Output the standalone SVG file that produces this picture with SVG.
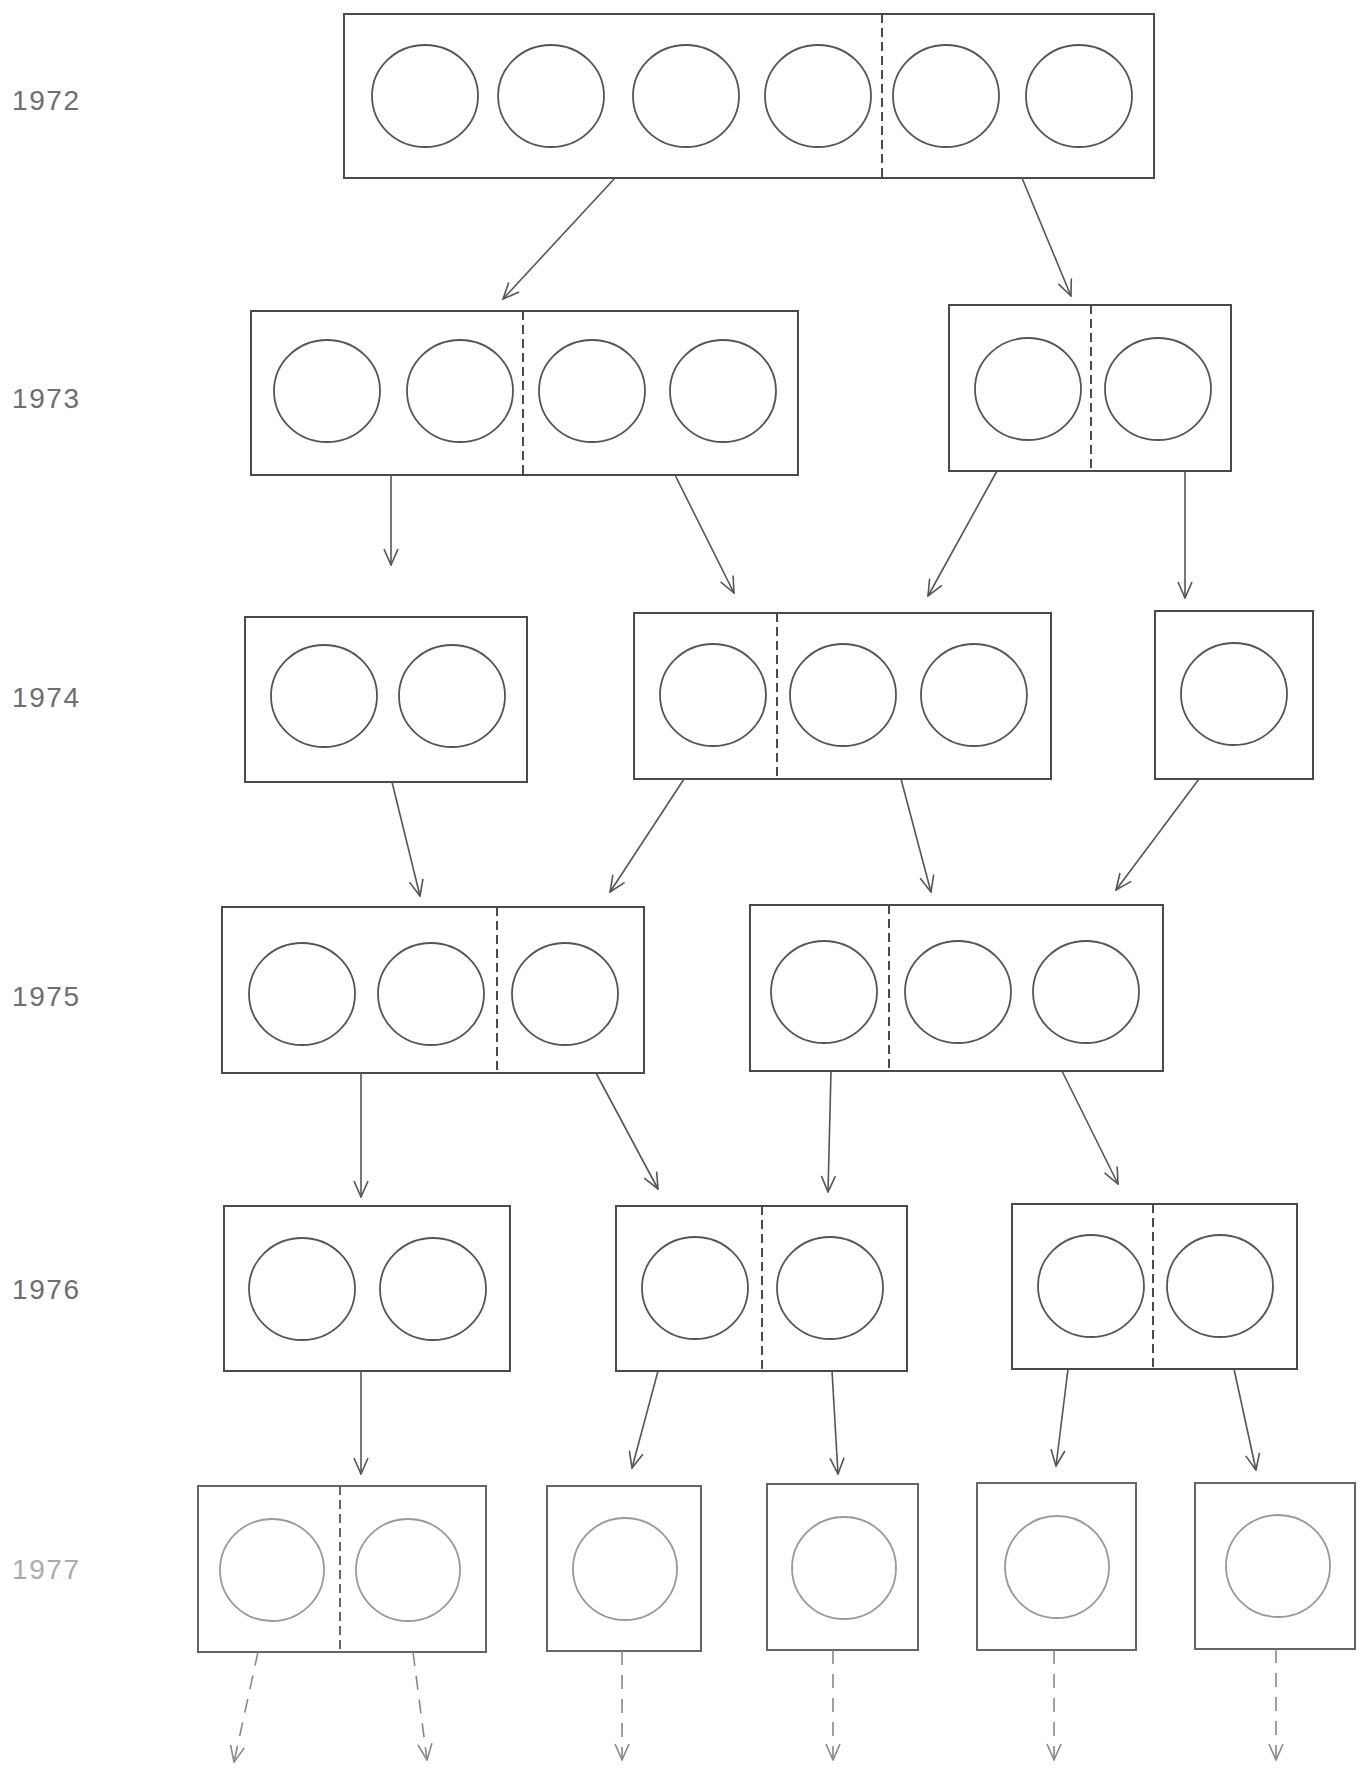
<svg xmlns="http://www.w3.org/2000/svg" width="1362" height="1771" viewBox="0 0 1362 1771">
<style>
.box{fill:none;stroke:#4a4a4a;stroke-width:2}
.c{fill:none;stroke:#555;stroke-width:1.8}
.div{stroke:#4a4a4a;stroke-width:2;stroke-dasharray:9,5}
.lbl{font-family:"Liberation Sans",Arial,sans-serif;font-size:28px;fill:#6e6e6e}
.lbl2{font-family:"Liberation Sans",Arial,sans-serif;font-size:28px;fill:#ababab}
.arr{stroke:#555;stroke-width:1.6;fill:none;marker-end:url(#ah)}
.darr{stroke:#888;stroke-width:1.6;fill:none;stroke-dasharray:14,10;marker-end:url(#ah2)}
.n7 .box{stroke:#666}
.n7 .c{stroke:#999}
.n7 .div{stroke:#666}
</style>
<defs>
<marker id="ah" viewBox="0 0 18 16" refX="17" refY="8" markerWidth="18" markerHeight="16" markerUnits="userSpaceOnUse" orient="auto">
<path d="M1,1 L17,8 L1,15" fill="none" stroke="#555" stroke-width="1.6"/>
</marker>
<marker id="ah2" viewBox="0 0 18 16" refX="17" refY="8" markerWidth="18" markerHeight="16" markerUnits="userSpaceOnUse" orient="auto">
<path d="M1,1 L17,8 L1,15" fill="none" stroke="#888" stroke-width="1.6"/>
</marker>
</defs>
<rect width="1362" height="1771" fill="#fff"/>
<g id="labels">
<text class="lbl" x="12" y="110" textLength="67" lengthAdjust="spacing">1972</text>
<text class="lbl" x="12" y="408" textLength="67" lengthAdjust="spacing">1973</text>
<text class="lbl" x="12" y="707" textLength="67" lengthAdjust="spacing">1974</text>
<text class="lbl" x="12" y="1006" textLength="67" lengthAdjust="spacing">1975</text>
<text class="lbl" x="12" y="1299" textLength="67" lengthAdjust="spacing">1976</text>
<text class="lbl2" x="12" y="1579" textLength="67" lengthAdjust="spacing">1977</text>
</g>
<g id="n1972">
<rect class="box" x="344" y="14" width="810" height="164"/>
<line class="div" x1="882" y1="14" x2="882" y2="178"/>
<ellipse class="c" cx="425" cy="96" rx="53" ry="51"/>
<ellipse class="c" cx="551" cy="96" rx="53" ry="51"/>
<ellipse class="c" cx="686" cy="96" rx="53" ry="51"/>
<ellipse class="c" cx="818" cy="96" rx="53" ry="51"/>
<ellipse class="c" cx="946" cy="96" rx="53" ry="51"/>
<ellipse class="c" cx="1079" cy="96" rx="53" ry="51"/>
</g>
<g id="n1973a">
<rect class="box" x="251" y="311" width="547" height="164"/>
<line class="div" x1="523" y1="311" x2="523" y2="475"/>
<ellipse class="c" cx="327" cy="391" rx="53" ry="51"/>
<ellipse class="c" cx="460" cy="391" rx="53" ry="51"/>
<ellipse class="c" cx="592" cy="391" rx="53" ry="51"/>
<ellipse class="c" cx="723" cy="391" rx="53" ry="51"/>
</g>
<g id="n1973b">
<rect class="box" x="949" y="305" width="282" height="166"/>
<line class="div" x1="1091" y1="305" x2="1091" y2="471"/>
<ellipse class="c" cx="1028" cy="389" rx="53" ry="51"/>
<ellipse class="c" cx="1158" cy="389" rx="53" ry="51"/>
</g>
<g id="n1974a">
<rect class="box" x="245" y="617" width="282" height="165"/>
<ellipse class="c" cx="324" cy="696" rx="53" ry="51"/>
<ellipse class="c" cx="452" cy="696" rx="53" ry="51"/>
</g>
<g id="n1974b">
<rect class="box" x="634" y="613" width="417" height="166"/>
<line class="div" x1="777" y1="613" x2="777" y2="779"/>
<ellipse class="c" cx="713" cy="695" rx="53" ry="51"/>
<ellipse class="c" cx="843" cy="695" rx="53" ry="51"/>
<ellipse class="c" cx="974" cy="695" rx="53" ry="51"/>
</g>
<g id="n1974c">
<rect class="box" x="1155" y="611" width="158" height="168"/>
<ellipse class="c" cx="1234" cy="694" rx="53" ry="51"/>
</g>
<g id="n1975a">
<rect class="box" x="222" y="907" width="422" height="166"/>
<line class="div" x1="497" y1="907" x2="497" y2="1073"/>
<ellipse class="c" cx="302" cy="994" rx="53" ry="51"/>
<ellipse class="c" cx="431" cy="994" rx="53" ry="51"/>
<ellipse class="c" cx="565" cy="994" rx="53" ry="51"/>
</g>
<g id="n1975b">
<rect class="box" x="750" y="905" width="413" height="166"/>
<line class="div" x1="889" y1="905" x2="889" y2="1071"/>
<ellipse class="c" cx="824" cy="992" rx="53" ry="51"/>
<ellipse class="c" cx="958" cy="992" rx="53" ry="51"/>
<ellipse class="c" cx="1086" cy="992" rx="53" ry="51"/>
</g>
<g id="n1976a">
<rect class="box" x="224" y="1206" width="286" height="165"/>
<ellipse class="c" cx="302" cy="1289" rx="53" ry="51"/>
<ellipse class="c" cx="433" cy="1289" rx="53" ry="51"/>
</g>
<g id="n1976b">
<rect class="box" x="616" y="1206" width="291" height="165"/>
<line class="div" x1="762" y1="1206" x2="762" y2="1371"/>
<ellipse class="c" cx="695" cy="1288" rx="53" ry="51"/>
<ellipse class="c" cx="830" cy="1288" rx="53" ry="51"/>
</g>
<g id="n1976c">
<rect class="box" x="1012" y="1204" width="285" height="165"/>
<line class="div" x1="1153" y1="1204" x2="1153" y2="1369"/>
<ellipse class="c" cx="1091" cy="1286" rx="53" ry="51"/>
<ellipse class="c" cx="1220" cy="1286" rx="53" ry="51"/>
</g>
<g id="n1977a" class="n7">
<rect class="box" x="198" y="1486" width="288" height="166"/>
<line class="div" x1="340" y1="1486" x2="340" y2="1652"/>
<ellipse class="c" cx="272" cy="1570" rx="52" ry="51"/>
<ellipse class="c" cx="408" cy="1570" rx="52" ry="51"/>
</g>
<g id="n1977b" class="n7">
<rect class="box" x="547" y="1486" width="154" height="165"/>
<ellipse class="c" cx="625" cy="1569" rx="52" ry="51"/>
</g>
<g id="n1977c" class="n7">
<rect class="box" x="767" y="1484" width="151" height="166"/>
<ellipse class="c" cx="844" cy="1568" rx="52" ry="51"/>
</g>
<g id="n1977d" class="n7">
<rect class="box" x="977" y="1483" width="159" height="167"/>
<ellipse class="c" cx="1057" cy="1567" rx="52" ry="51"/>
</g>
<g id="n1977e" class="n7">
<rect class="box" x="1195" y="1483" width="160" height="166"/>
<ellipse class="c" cx="1278" cy="1566" rx="52" ry="51"/>
</g>
<g id="connectors">
<line class="arr" x1="615" y1="178" x2="503" y2="299"/>
<line class="arr" x1="1022" y1="178" x2="1071" y2="296"/>
<line class="arr" x1="391" y1="475" x2="391" y2="565"/>
<line class="arr" x1="675" y1="475" x2="734" y2="593"/>
<line class="arr" x1="997" y1="471" x2="928" y2="596"/>
<line class="arr" x1="1185" y1="471" x2="1185" y2="598"/>
<line class="arr" x1="392" y1="782" x2="420" y2="896"/>
<line class="arr" x1="684" y1="779" x2="610" y2="892"/>
<line class="arr" x1="901" y1="779" x2="931" y2="892"/>
<line class="arr" x1="1199" y1="779" x2="1116" y2="890"/>
<line class="arr" x1="361" y1="1073" x2="361" y2="1197"/>
<line class="arr" x1="596" y1="1073" x2="658" y2="1189"/>
<line class="arr" x1="831" y1="1071" x2="828" y2="1192"/>
<line class="arr" x1="1062" y1="1071" x2="1118" y2="1184"/>
<line class="arr" x1="361" y1="1371" x2="361" y2="1474"/>
<line class="arr" x1="658" y1="1371" x2="632" y2="1468"/>
<line class="arr" x1="832" y1="1371" x2="838" y2="1474"/>
<line class="arr" x1="1068" y1="1369" x2="1056" y2="1466"/>
<line class="arr" x1="1234" y1="1369" x2="1256" y2="1470"/>
<line class="darr" x1="258" y1="1652" x2="234" y2="1762"/>
<line class="darr" x1="413" y1="1652" x2="427" y2="1760"/>
<line class="darr" x1="622" y1="1651" x2="622" y2="1760"/>
<line class="darr" x1="833" y1="1650" x2="833" y2="1760"/>
<line class="darr" x1="1054" y1="1650" x2="1054" y2="1760"/>
<line class="darr" x1="1276" y1="1649" x2="1276" y2="1760"/>
</g>
</svg>
